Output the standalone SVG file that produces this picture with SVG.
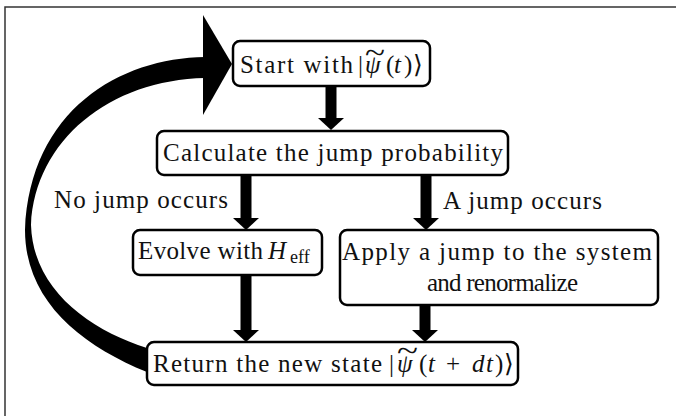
<svg xmlns="http://www.w3.org/2000/svg" width="676" height="416" viewBox="0 0 676 416">
<defs>
<style>
.box{fill:#fff;stroke:#000;stroke-width:2.5}
.t{font-family:"Liberation Serif","DejaVu Serif",serif;font-size:25px;fill:#111}
.i{font-style:italic}
.tl{font-size:30px}
.conn{stroke:#000;stroke-width:11;fill:none}
.frame{stroke:#333;stroke-width:1.5;fill:none}
</style>
<marker id="ah" viewBox="0 0 12 26" markerWidth="12" markerHeight="26" refX="0" refY="13" orient="auto" markerUnits="userSpaceOnUse">
<path d="M0,0 L12,13 L0,26 Z" fill="#000"/>
</marker>
</defs>
<rect width="676" height="416" fill="#fff"/>
<path class="frame" d="M5,416 L5,7 L676,7"/>

<g id="connectors">
<line class="conn" x1="331" y1="86" x2="331" y2="118" marker-end="url(#ah)"/>
<line class="conn" x1="246" y1="175" x2="246" y2="218" marker-end="url(#ah)"/>
<line class="conn" x1="426" y1="175" x2="426" y2="218" marker-end="url(#ah)"/>
<line class="conn" x1="246" y1="275" x2="246" y2="330" marker-end="url(#ah)"/>
<line class="conn" x1="425" y1="305" x2="425" y2="330" marker-end="url(#ah)"/>
<path id="loop" d="M205,57 C120,58 30,110 25,230 C25,300 80,345 147,372 L147,348 C90,330 33,290 31,225 C35,140 110,80 205,78 Z" fill="#000"/>
<polygon points="203,15 232,64 203,115" fill="#000"/>
<text class="t" x="54" y="208" textLength="174">No jump occurs</text>
<text class="t" x="443" y="209" textLength="159">A jump occurs</text>
</g>

<g id="start">
<rect class="box" x="233" y="41" width="197" height="45" rx="7"/>
<text class="t" x="240" y="73" textLength="113">Start with</text>
<text class="t" y="73"><tspan x="358">|</tspan><tspan x="365" class="i">ψ</tspan><tspan x="386">(</tspan><tspan x="394" class="i">t</tspan><tspan x="404">)</tspan><tspan x="413">⟩</tspan><tspan class="tl" x="365" y="63" textLength="20" lengthAdjust="spacingAndGlyphs">~</tspan></text>
</g>

<g id="calculate">
<rect class="box" x="157" y="131" width="351" height="44" rx="7"/>
<text class="t" x="163" y="161" textLength="340">Calculate the jump probability</text>
</g>

<g id="evolve">
<rect class="box" x="133" y="230" width="189" height="45" rx="7"/>
<text class="t" x="138" y="259" textLength="125">Evolve with</text>
<text class="t" y="259"><tspan x="268" class="i">H</tspan><tspan x="290" y="263" font-size="18">eff</tspan></text>
</g>

<g id="apply">
<rect class="box" x="340" y="230" width="318" height="75" rx="7"/>
<text class="t" x="342" y="260" textLength="310">Apply a jump to the system</text>
<text class="t" x="427" y="291" textLength="151">and renormalize</text>
</g>

<g id="return">
<rect class="box" x="147" y="342" width="371" height="43" rx="7"/>
<text class="t" x="153" y="372" textLength="229">Return the new state</text>
<text class="t" y="372"><tspan x="389">|</tspan><tspan x="397" class="i">ψ</tspan><tspan x="419">(</tspan><tspan x="428" class="i">t</tspan><tspan x="446">+</tspan><tspan x="472" class="i">d</tspan><tspan x="486" class="i">t</tspan><tspan x="495">)</tspan><tspan x="504">⟩</tspan><tspan class="tl" x="397" y="361" textLength="21" lengthAdjust="spacingAndGlyphs">~</tspan></text>
</g>
</svg>
